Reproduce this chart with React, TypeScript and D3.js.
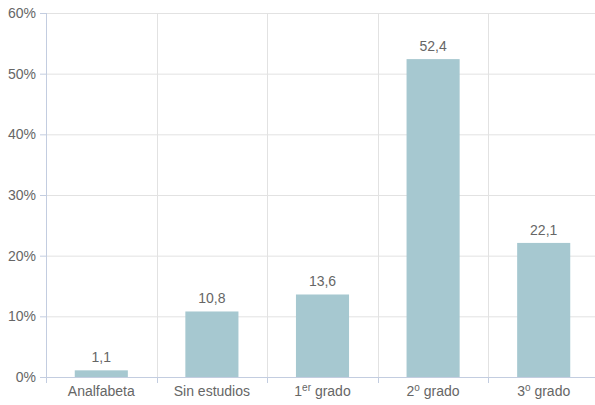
import React from "react";
import * as d3 from "d3";

const categories = ["Analfabeta", "Sin estudios", "1er grado", "2o grado", "3o grado"];
const labelMain = ["Analfabeta", "Sin estudios", "1", "2", "3"];
const labelSup = ["", "", "er", "o", "o"];
const labelRest = ["", "", " grado", " grado", " grado"];
const values = [1.1, 10.8, 13.6, 52.4, 22.1];
const yTicks = [0, 10, 20, 30, 40, 50, 60];

const W = 595, H = 405;
const m = { left: 46, right: -4, top: 13, bottom: 28 };

export default function App() {
  const x = d3.scaleBand<string>().domain(categories).range([m.left, W - m.right]).paddingInner(0).paddingOuter(0);
  const y = d3.scaleLinear().domain([0, 60]).range([H - m.bottom, m.top]);
  const bw = x.bandwidth() * 0.48;
  const font = "Liberation Sans, Arial, sans-serif";
  const textColor = "#666";
  const axisColor = "#c3cde0";
  const gridColor = "#e2e2e2";
  const y0 = y(0);
  return (
    <svg width={W} height={H} style={{ position: "absolute", left: 0, top: 0 }} fontFamily={font}>
      {yTicks.slice(1).map((t) => (
        <line key={"g" + t} x1={m.left} x2={W} y1={y(t) + 0.5} y2={y(t) + 0.5} stroke={gridColor} />
      ))}
      {categories.slice(1).map((c) => (
        <line key={"v" + c} x1={Math.round(x(c)!) + 0.5} x2={Math.round(x(c)!) + 0.5} y1={m.top} y2={y0} stroke={gridColor} />
      ))}
      {categories.map((c, i) => (
        <rect key={c} x={x(c)! + (x.bandwidth() - bw) / 2} y={y(values[i])} width={bw} height={y0 - y(values[i])} fill="#a6c8d0" />
      ))}
      {categories.map((c, i) => (
        <text key={"v" + c} x={x(c)! + x.bandwidth() / 2} y={y(values[i]) - 8} textAnchor="middle" fontSize={14} fill={textColor}>
          {String(values[i]).replace(".", ",")}
        </text>
      ))}
      <line x1={m.left + 0.5} x2={m.left + 0.5} y1={m.top} y2={y0} stroke={axisColor} />
      <line x1={m.left} x2={W} y1={y0 + 0.5} y2={y0 + 0.5} stroke={axisColor} />
      {yTicks.map((t) => (
        <g key={"t" + t}>
          <line x1={m.left - 6} x2={m.left} y1={y(t) + 0.5} y2={y(t) + 0.5} stroke={axisColor} />
          <text x={m.left - 10} y={y(t) + 5} textAnchor="end" fontSize={14} fill={textColor}>{t}%</text>
        </g>
      ))}
      {categories.map((c) => (
        <line key={"xt" + c} x1={Math.round(x(c)!) + 0.5} x2={Math.round(x(c)!) + 0.5} y1={y0} y2={y0 + 6} stroke={axisColor} />
      ))}
      {categories.map((c, i) => (
        <text key={"l" + c} x={x(c)! + x.bandwidth() / 2} y={y0 + 19} textAnchor="middle" fontSize={14} fill={textColor}>
          {labelMain[i]}
          {labelSup[i] && <tspan fontSize={10} dy={-5}>{labelSup[i]}</tspan>}
          {labelRest[i] && <tspan dy={labelSup[i] ? 5 : 0}>{labelRest[i]}</tspan>}
        </text>
      ))}
    </svg>
  );
}
